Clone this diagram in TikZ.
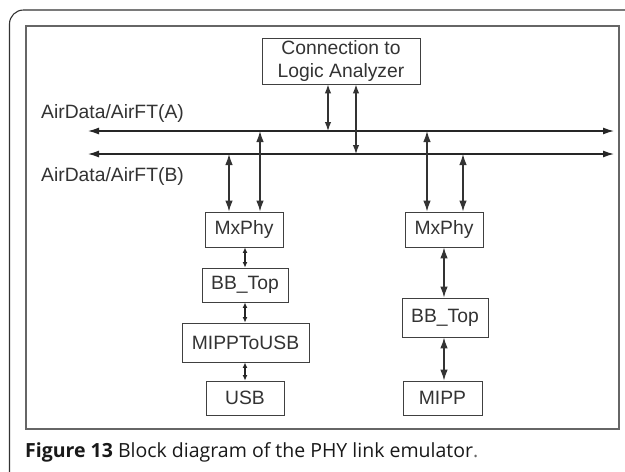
\documentclass[tikz,border=0pt]{standalone}
\usepackage{fontspec}
\setmainfont{Liberation Sans}
\newfontfamily\capfont{Open Sans}
\usetikzlibrary{arrows.meta}
\tikzset{
  blk/.style={draw=black!75, line width=0.9pt, fill=white, inner sep=0pt,
    text=black!80, font=\fontsize{19.3}{23}\selectfont},
  bus/.style={draw=black!85, line width=1.3pt, {Latex[length=11pt,width=7pt]}-{Latex[length=11pt,width=7pt]}},
  link/.style={draw=black!80, line width=1.2pt, {Latex[length=11pt,width=7.5pt]}-{Latex[length=11pt,width=7.5pt]}},
  short/.style={draw=black!80, line width=1.2pt, {Latex[length=9pt,width=6.5pt]}-{Latex[length=9pt,width=6.5pt]}},
  tiny/.style={draw=black!85, line width=1.1pt, {Latex[length=5.5pt,width=5pt]}-{Latex[length=5.5pt,width=5pt]}},
  lbl/.style={text=black!80, font=\fontsize{19.3}{22}\selectfont, inner sep=0pt}
}
\begin{document}
\begin{tikzpicture}[x=1pt,y=-1pt]
\useasboundingbox (0,0) rectangle (625,472);
\fill[white] (0,0) rectangle (625,472);

% outer panel frame (runs off the right and bottom edges)
\draw[black!80, line width=1.1pt] (9.5,472) -- (9.5,24) arc[start angle=180, end angle=90, radius=14pt] -- (625,10);
% inner figure frame
\draw[black!60, line width=1.6pt] (26,26) rectangle (619,429);

% blocks
\node[blk, minimum width=158pt, minimum height=46pt, align=center] (conn) at (341,61) {Connection to\\Logic Analyzer};
\node[blk, minimum width=78pt, minimum height=35pt] (mxL) at (244,229.5) {MxPhy};
\node[blk, minimum width=86pt, minimum height=34pt] (bbL) at (245,285) {BB\_Top};
\node[blk, minimum width=127pt, minimum height=39pt] (mu) at (245.5,342.5) {MIPPToUSB};
\node[blk, minimum width=78pt, minimum height=34pt] (usb) at (245,398) {USB};
\node[blk, minimum width=78pt, minimum height=35pt] (mxR) at (444,229.5) {MxPhy};
\node[blk, minimum width=86pt, minimum height=39pt] (bbR) at (445,317.5) {BB\_Top};
\node[blk, minimum width=79pt, minimum height=34pt] (mipp) at (442.5,398) {MIPP};

% bus labels
\node[lbl, anchor=base west] (labA) at (41,118) {AirData/AirFT(A)};
\node[lbl, anchor=base west] (labB) at (41,181) {AirData/AirFT(B)};

% the two buses
\coordinate (aL) at (88,131);  \coordinate (aR) at (614,131);
\coordinate (bL) at (88,154);  \coordinate (bR) at (614,154);
\draw[bus] (aL) -- (aR);
\draw[bus] (bL) -- (bR);

% taps on the buses
\coordinate (ta1) at (328,131);
\coordinate (tb1) at (356,154);
\coordinate (tb2) at (229,154);
\coordinate (ta2) at (260,131);
\coordinate (ta3) at (427,131);
\coordinate (tb3) at (463,154);

\draw[short] (conn.south -| ta1) -- (ta1);
\draw[short] (conn.south -| tb1) -- (tb1);
\draw[link] (tb2) -- (mxL.north -| tb2);
\draw[link] (ta2) -- (mxL.north -| ta2);
\draw[link] (ta3) -- (mxR.north -| ta3);
\draw[link] (tb3) -- (mxR.north -| tb3);

% left chain
\draw[tiny] (mxL.south -| bbL) -- (bbL.north);
\draw[tiny] (bbL.south) -- (mu.north -| bbL);
\draw[tiny] (mu.south -| bbL) -- (usb.north -| bbL);

% right chain
\draw[link] (mxR.south) -- (bbR.north -| mxR);
\draw[link] (bbR.south -| mxR) -- (mipp.north -| mxR);

% caption
\node[anchor=base west, inner sep=0pt, text=black!90, font=\capfont\fontsize{19.5}{22}\selectfont] (cap) at (25,457)
  {\textbf{Figure 13} Block diagram of the PHY link emulator\textcolor{black!60}{.}};
\end{tikzpicture}
\end{document}
